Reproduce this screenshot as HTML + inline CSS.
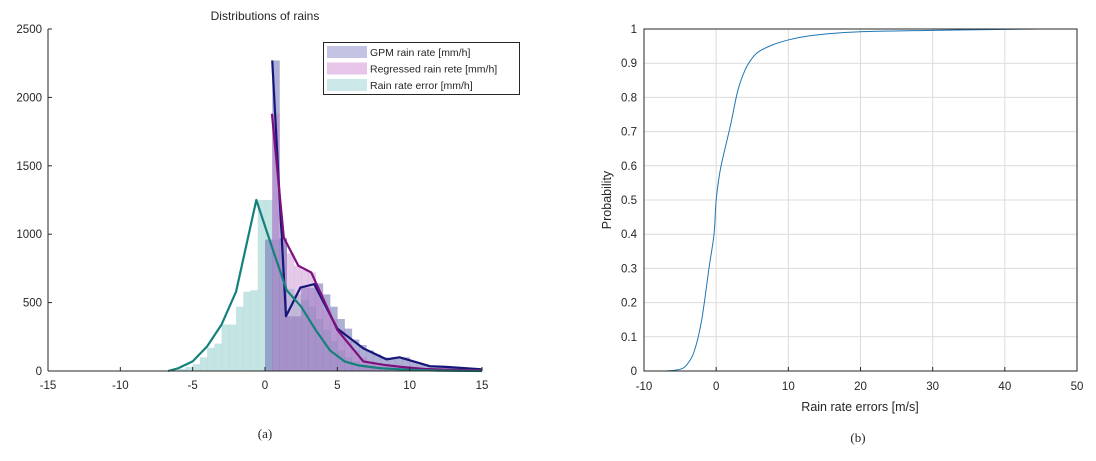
<!DOCTYPE html>
<html><head><meta charset="utf-8"><style>
body{margin:0;background:#fff;}
svg text{font-family:"Liberation Sans",sans-serif;fill:#262626;}
</style></head><body>
<svg id="c" width="1096" height="456" xmlns="http://www.w3.org/2000/svg">
<g id="left"></g>
<g id="right"></g>
<text x="265" y="438" text-anchor="middle" font-size="13" style="font-family:'Liberation Serif',serif">(a)</text>
<text x="858" y="442" text-anchor="middle" font-size="13" style="font-family:'Liberation Serif',serif">(b)</text>
</svg>
<script>
// Left histogram data (bins width 0.5)
const errStart = -6.5;
const errBars = [5,15,30,50,100,170,200,340,340,470,580,590,1250,1250,960,960,600,560,520,470,380,300,220,150,100,70,50,40,30,20,15,10,8,6,5,4,3,2];
const gpmStart = 0;
const gpmBars = [960,2270,970,400,400,610,610,640,560,470,380,310,230,190,150,120,100,85,90,100,70,50,40,35,30,30,25,20,15,12];
const regBars = [0,1880,975,860,770,740,720,580,450,380,300,220,150,100,70,55,45,40,35,30,20,15,10,8,6,5,4,3,2,2];
const errLineX = [-6.7,-6,-5,-4,-3,-2,-0.6,0.5,1.5,2.5,3.5,4.5,5.5,6.5,8,10,12,15];
const errLineY = [0,20,70,180,340,580,1250,900,590,470,300,150,70,40,20,8,3,0];
const gpmLineX = [0.5,1.45,2.45,3.4,5,6.8,8.4,9.3,11.4,12.5,15];
const gpmLineY = [2270,400,610,635,310,165,85,100,35,30,12];
const regLineX = [0.48,1.3,2.3,3.2,5,6.8,8.2,9.4,11,13,15];
const regLineY = [1880,975,770,720,300,70,45,30,15,8,5];
const lxTicks = [-15,-10,-5,0,5,10,15];
const lyTicks = [0,500,1000,1500,2000,2500];
// Right CDF data
const cdfX = [-7,-5,-4,-3,-2,-1,-0.3,0,0.5,1,2,3,4,5,6,8,10,12,15,20,30,40,45];
const cdfY = [0,0.005,0.02,0.06,0.15,0.3,0.4,0.5,0.58,0.63,0.72,0.82,0.88,0.915,0.935,0.955,0.968,0.977,0.985,0.992,0.996,0.999,1];
const rxTicks = [-10,0,10,20,30,40,50];
const ryTicks = [0,0.1,0.2,0.3,0.4,0.5,0.6,0.7,0.8,0.9,1];

const NS="http://www.w3.org/2000/svg";
function mk(parent,tag,attrs,text){const e=document.createElementNS(NS,tag);for(const k in attrs)e.setAttribute(k,attrs[k]);if(text!==undefined)e.textContent=text;parent.appendChild(e);return e;}
function smooth(pts){let d='M'+pts[0][0]+','+pts[0][1];for(let i=0;i<pts.length-1;i++){const p0=pts[Math.max(0,i-1)],p1=pts[i],p2=pts[i+1],p3=pts[Math.min(pts.length-1,i+2)];
 const c1=[p1[0]+(p2[0]-p0[0])/6,p1[1]+(p2[1]-p0[1])/6],c2=[p2[0]-(p3[0]-p1[0])/6,p2[1]-(p3[1]-p1[1])/6];
 d+=' C'+c1[0]+','+c1[1]+' '+c2[0]+','+c2[1]+' '+p2[0]+','+p2[1];}return d;}

const L=document.getElementById('left');
const lx=v=>48+(v+15)/30*434, ly=v=>371-v/2500*342;
function bars(start,vals,fill,name){vals.forEach((v,i)=>{const x0=lx(start+i*0.5),x1=lx(start+(i+1)*0.5);
 const r=mk(L,'rect',{x:x0,y:ly(v),width:x1-x0+0.3,height:371-ly(v),fill:fill});
 
 });}
bars(errStart,errBars,'rgba(150,205,205,0.55)','error-bar');
bars(gpmStart,gpmBars,'rgba(110,110,180,0.55)','gpm-bar');
bars(gpmStart,regBars,'rgba(190,120,200,0.4)','regressed-bar');
function line(xs,ys,col,name){const p=mk(L,'polyline',{points:xs.map((x,i)=>lx(x)+','+ly(ys[i])).join(' '),fill:'none',stroke:col,'stroke-width':2.2,'stroke-linejoin':'round'});
 
 }
line(gpmLineX,gpmLineY,'#16167a','gpm-line');
line(regLineX,regLineY,'#7c107c','regressed-line');
line(errLineX,errLineY,'#16807c','error-line');
mk(L,'line',{x1:48,y1:29,x2:48,y2:371,stroke:'#262626','stroke-width':1});
mk(L,'line',{x1:48,y1:371,x2:482,y2:371,stroke:'#262626','stroke-width':1});
lxTicks.forEach(t=>{mk(L,'line',{x1:lx(t),y1:371,x2:lx(t),y2:367,stroke:'#262626'});
 const e=mk(L,'text',{x:lx(t),y:389,'text-anchor':'middle','font-size':11.5},t);
 
 });
lyTicks.forEach(t=>{mk(L,'line',{x1:48,y1:ly(t),x2:52,y2:ly(t),stroke:'#262626'});
 const e=mk(L,'text',{x:42,y:ly(t)+4,'text-anchor':'end','font-size':11.5},t);
 
 });
const tt=mk(L,'text',{x:265,y:20,'text-anchor':'middle','font-size':12},'Distributions of rains');


const lg=mk(L,'g',{});


mk(lg,'rect',{x:323.5,y:42.5,width:196,height:52,fill:'#fff',stroke:'#262626'});
[['GPM rain rate [mm/h]','#c3c3e3'],['Regressed rain rete [mm/h]','#e8c6ea'],['Rain rate error [mm/h]','#cde8e8']].forEach((d,i)=>{
 mk(lg,'rect',{x:327,y:46+i*16.5,width:40,height:12,fill:d[1]});
 const e=mk(lg,'text',{x:370,y:56+i*16.5,'font-size':10.5},d[0]);
 
 });

const R=document.getElementById('right');
const rx=v=>644+(v+10)/60*433, ry=v=>371-v*342;
mk(R,'rect',{x:644,y:29,width:433,height:342,fill:'#fff'});
rxTicks.forEach(t=>{mk(R,'line',{x1:rx(t),y1:29,x2:rx(t),y2:371,stroke:'#dcdcdc'});
 mk(R,'line',{x1:rx(t),y1:371,x2:rx(t),y2:367,stroke:'#262626'});
 const e=mk(R,'text',{x:rx(t),y:390,'text-anchor':'middle','font-size':11.5},t);
 
 });
ryTicks.forEach(t=>{mk(R,'line',{x1:644,y1:ry(t),x2:1077,y2:ry(t),stroke:'#dcdcdc'});
 const e=mk(R,'text',{x:637,y:ry(t)+4,'text-anchor':'end','font-size':11.5},t);
 
 });
const cl=mk(R,'path',{d:smooth(cdfX.map((x,i)=>[rx(x),ry(cdfY[i])])),fill:'none',stroke:'#1f77b4','stroke-width':1});


mk(R,'rect',{x:644,y:29,width:433,height:342,fill:'none',stroke:'#262626'});
const xl=mk(R,'text',{x:860,y:411,'text-anchor':'middle','font-size':12.5},'Rain rate errors [m/s]');


const yl=mk(R,'text',{x:0,y:0,'text-anchor':'middle','font-size':12.5,transform:'translate(611,200) rotate(-90)'},'Probability');


</script>
</body></html>
